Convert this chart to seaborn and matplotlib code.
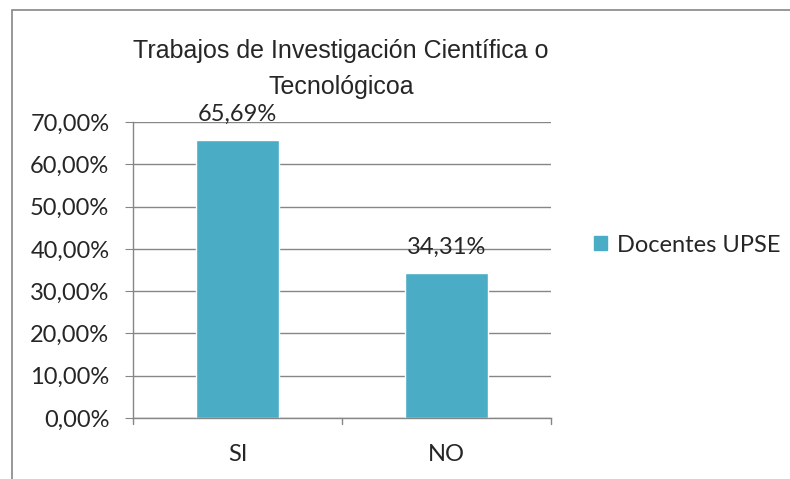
import matplotlib
matplotlib.use("Agg")
import matplotlib.pyplot as plt
import matplotlib.patches as mpatches
import seaborn as sns
import pandas as pd

# datos
categorias = ["SI", "NO"]
porcentajes = [65.69, 34.31]
serie = "Docentes UPSE"
titulo = "Trabajos de Investigación Científica o\nTecnológicoa"

color_barra = "#4BACC6"
gris = "#868686"

sns.set_style("white")
plt.rcParams['font.family'] = ['Lato', 'DejaVu Sans']

df = pd.DataFrame({'Respuesta': categorias, 'Porcentaje': porcentajes, 'Serie': serie})

fig = plt.figure(figsize=(7.9, 4.79), dpi=100)
ax = fig.add_axes([133/790, 1 - 418/479, 418/790, 296/479])

sns.barplot(data=df, x='Respuesta', y='Porcentaje', hue='Serie', palette=[color_barra],
            width=0.4, ax=ax, legend=False, saturation=1)

ax.set_ylim(0, 70)
ax.set_xlim(-0.5, 1.5)
ax.set_yticks(range(0, 71, 10))
ax.set_yticklabels([f"{v:.2f}%".replace('.', ',') for v in range(0, 71, 10)], fontsize=17)
ax.set_xticks([0, 1])
ax.set_xticklabels(categorias, fontsize=17)
ax.set_xlabel('')
ax.set_ylabel('')
ax.yaxis.grid(True, color=gris, linewidth=1)
ax.set_axisbelow(True)
for s in ['top', 'right']:
    ax.spines[s].set_visible(False)
for s in ['left', 'bottom']:
    ax.spines[s].set_color(gris)
    ax.spines[s].set_linewidth(1)
ax.tick_params(axis='y', left=True, length=6, color=gris, pad=11)
ax.tick_params(axis='x', bottom=False, pad=15)
# marcas del eje x entre categorias
for xb in [-0.5, 0.5, 1.5]:
    ax.plot([xb, xb], [0, -0.02], transform=ax.get_xaxis_transform(), color=gris,
            linewidth=1, clip_on=False)

# etiquetas de datos
for i, v in enumerate(porcentajes):
    ax.annotate(f"{v:.2f}%".replace('.', ','), (i, v), xytext=(0, 14), textcoords='offset points',
                ha='center', va='baseline', fontsize=17)

fig.text(341/790, 1 - 69/479, titulo, ha='center', va='center', fontsize=18,
         family=['Liberation Sans', 'DejaVu Sans'], linespacing=1.6)

handle = mpatches.Patch(color=color_barra, label=serie)
fig.legend(handles=[handle], loc='center left', bbox_to_anchor=(573/790, 1 - 245/479),
           frameon=False, fontsize=17, handlelength=0.55, handleheight=0.55, handletextpad=0.4)

# borde del area del grafico
fig.patches.append(mpatches.Rectangle((12/790, -0.1), 1.0, 1 - 10/479 + 0.1, transform=fig.transFigure,
                                      fill=False, edgecolor=gris, linewidth=1.2))

fig.savefig("out.png", dpi=100)
